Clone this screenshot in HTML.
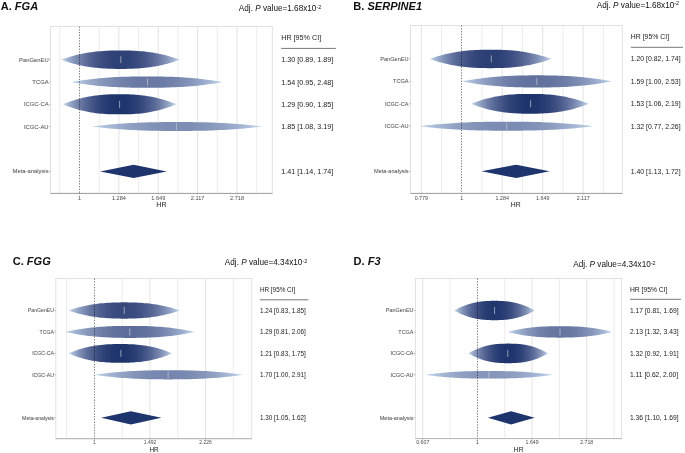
<!DOCTYPE html>
<html><head><meta charset="utf-8"><title>Forest plots</title>
<style>
html,body{margin:0;padding:0;background:#fff;}
svg{display:block;will-change:transform;filter:blur(0.3px);}
text{font-family:"Liberation Sans",sans-serif;}
.tt{font-size:11.05px;font-weight:bold;fill:#111;}
.adj{font-size:8.2px;fill:#111;}
.yl{font-size:5.8px;fill:#4d4d4d;}
.xl{font-size:5.6px;fill:#4d4d4d;}
.hr{font-size:7.2px;fill:#222;}
.rc{font-size:7.2px;fill:#111;}
</style></head><body>
<svg width="685" height="453" viewBox="0 0 685 453">
<defs>
<linearGradient id="gA0" gradientUnits="userSpaceOnUse" x1="61.15" y1="0" x2="179.76" y2="0"><stop offset="0.000" stop-color="#c6dbef"/><stop offset="0.025" stop-color="#b3c6e0"/><stop offset="0.050" stop-color="#a3b6d3"/><stop offset="0.075" stop-color="#96a7c8"/><stop offset="0.100" stop-color="#899abe"/><stop offset="0.125" stop-color="#7e8eb4"/><stop offset="0.150" stop-color="#7383ac"/><stop offset="0.175" stop-color="#6979a4"/><stop offset="0.200" stop-color="#61709d"/><stop offset="0.225" stop-color="#596897"/><stop offset="0.250" stop-color="#516191"/><stop offset="0.275" stop-color="#4b5b8c"/><stop offset="0.300" stop-color="#455587"/><stop offset="0.325" stop-color="#3f5183"/><stop offset="0.350" stop-color="#3b4c80"/><stop offset="0.375" stop-color="#37497d"/><stop offset="0.400" stop-color="#34467b"/><stop offset="0.425" stop-color="#314479"/><stop offset="0.450" stop-color="#2f4278"/><stop offset="0.475" stop-color="#2e4277"/><stop offset="0.500" stop-color="#2e4177"/><stop offset="0.525" stop-color="#2e4277"/><stop offset="0.550" stop-color="#2f4278"/><stop offset="0.575" stop-color="#314479"/><stop offset="0.600" stop-color="#34467b"/><stop offset="0.625" stop-color="#37497d"/><stop offset="0.650" stop-color="#3b4c80"/><stop offset="0.675" stop-color="#3f5183"/><stop offset="0.700" stop-color="#455587"/><stop offset="0.725" stop-color="#4b5b8c"/><stop offset="0.750" stop-color="#516191"/><stop offset="0.775" stop-color="#596897"/><stop offset="0.800" stop-color="#61709d"/><stop offset="0.825" stop-color="#6979a4"/><stop offset="0.850" stop-color="#7383ac"/><stop offset="0.875" stop-color="#7e8eb4"/><stop offset="0.900" stop-color="#899abe"/><stop offset="0.925" stop-color="#96a7c8"/><stop offset="0.950" stop-color="#a3b6d3"/><stop offset="0.975" stop-color="#b3c6e0"/><stop offset="1.000" stop-color="#c6dbef"/></linearGradient>
<linearGradient id="gA1" gradientUnits="userSpaceOnUse" x1="71.42" y1="0" x2="222.55" y2="0"><stop offset="0.000" stop-color="#c6dbef"/><stop offset="0.025" stop-color="#bacee5"/><stop offset="0.050" stop-color="#b1c4de"/><stop offset="0.075" stop-color="#a8bbd7"/><stop offset="0.100" stop-color="#a0b2d0"/><stop offset="0.125" stop-color="#99abcb"/><stop offset="0.150" stop-color="#92a4c5"/><stop offset="0.175" stop-color="#8d9dc0"/><stop offset="0.200" stop-color="#8798bc"/><stop offset="0.225" stop-color="#8292b8"/><stop offset="0.250" stop-color="#7e8eb4"/><stop offset="0.275" stop-color="#7a8ab1"/><stop offset="0.300" stop-color="#7686ae"/><stop offset="0.325" stop-color="#7383ac"/><stop offset="0.350" stop-color="#7080a9"/><stop offset="0.375" stop-color="#6e7ea8"/><stop offset="0.400" stop-color="#6c7ca6"/><stop offset="0.425" stop-color="#6a7aa5"/><stop offset="0.450" stop-color="#6979a4"/><stop offset="0.475" stop-color="#6978a4"/><stop offset="0.500" stop-color="#6978a3"/><stop offset="0.525" stop-color="#6978a4"/><stop offset="0.550" stop-color="#6979a4"/><stop offset="0.575" stop-color="#6a7aa5"/><stop offset="0.600" stop-color="#6c7ca6"/><stop offset="0.625" stop-color="#6e7ea8"/><stop offset="0.650" stop-color="#7080a9"/><stop offset="0.675" stop-color="#7383ac"/><stop offset="0.700" stop-color="#7686ae"/><stop offset="0.725" stop-color="#7a8ab1"/><stop offset="0.750" stop-color="#7e8eb4"/><stop offset="0.775" stop-color="#8292b8"/><stop offset="0.800" stop-color="#8798bc"/><stop offset="0.825" stop-color="#8d9dc0"/><stop offset="0.850" stop-color="#92a4c5"/><stop offset="0.875" stop-color="#99abcb"/><stop offset="0.900" stop-color="#a0b2d0"/><stop offset="0.925" stop-color="#a8bbd7"/><stop offset="0.950" stop-color="#b1c4de"/><stop offset="0.975" stop-color="#bacee5"/><stop offset="1.000" stop-color="#c6dbef"/></linearGradient>
<linearGradient id="gA2" gradientUnits="userSpaceOnUse" x1="62.91" y1="0" x2="176.39" y2="0"><stop offset="0.000" stop-color="#c6dbef"/><stop offset="0.025" stop-color="#b1c5de"/><stop offset="0.050" stop-color="#a0b2d0"/><stop offset="0.075" stop-color="#91a2c4"/><stop offset="0.100" stop-color="#8494b9"/><stop offset="0.125" stop-color="#7787af"/><stop offset="0.150" stop-color="#6c7ba6"/><stop offset="0.175" stop-color="#61719d"/><stop offset="0.200" stop-color="#576796"/><stop offset="0.225" stop-color="#4f5f8f"/><stop offset="0.250" stop-color="#465789"/><stop offset="0.275" stop-color="#3f5083"/><stop offset="0.300" stop-color="#384a7e"/><stop offset="0.325" stop-color="#32457a"/><stop offset="0.350" stop-color="#2d4176"/><stop offset="0.375" stop-color="#283d73"/><stop offset="0.400" stop-color="#243a70"/><stop offset="0.425" stop-color="#21386f"/><stop offset="0.450" stop-color="#1f366d"/><stop offset="0.475" stop-color="#1d356c"/><stop offset="0.500" stop-color="#1d356c"/><stop offset="0.525" stop-color="#1d356c"/><stop offset="0.550" stop-color="#1f366d"/><stop offset="0.575" stop-color="#21386f"/><stop offset="0.600" stop-color="#243a70"/><stop offset="0.625" stop-color="#283d73"/><stop offset="0.650" stop-color="#2d4176"/><stop offset="0.675" stop-color="#32457a"/><stop offset="0.700" stop-color="#384a7e"/><stop offset="0.725" stop-color="#3f5083"/><stop offset="0.750" stop-color="#465789"/><stop offset="0.775" stop-color="#4f5f8f"/><stop offset="0.800" stop-color="#576796"/><stop offset="0.825" stop-color="#61719d"/><stop offset="0.850" stop-color="#6c7ba6"/><stop offset="0.875" stop-color="#7787af"/><stop offset="0.900" stop-color="#8494b9"/><stop offset="0.925" stop-color="#91a2c4"/><stop offset="0.950" stop-color="#a0b2d0"/><stop offset="0.975" stop-color="#b1c5de"/><stop offset="1.000" stop-color="#c6dbef"/></linearGradient>
<linearGradient id="gA3" gradientUnits="userSpaceOnUse" x1="91.62" y1="0" x2="262.20" y2="0"><stop offset="0.000" stop-color="#c6dbef"/><stop offset="0.025" stop-color="#bdd1e8"/><stop offset="0.050" stop-color="#b5c9e1"/><stop offset="0.075" stop-color="#aec2dc"/><stop offset="0.100" stop-color="#a8bbd7"/><stop offset="0.125" stop-color="#a3b5d2"/><stop offset="0.150" stop-color="#9dafce"/><stop offset="0.175" stop-color="#99aaca"/><stop offset="0.200" stop-color="#94a6c7"/><stop offset="0.225" stop-color="#90a2c4"/><stop offset="0.250" stop-color="#8d9ec1"/><stop offset="0.275" stop-color="#8a9bbe"/><stop offset="0.300" stop-color="#8798bc"/><stop offset="0.325" stop-color="#8495ba"/><stop offset="0.350" stop-color="#8293b8"/><stop offset="0.375" stop-color="#8091b7"/><stop offset="0.400" stop-color="#7f8fb5"/><stop offset="0.425" stop-color="#7e8eb4"/><stop offset="0.450" stop-color="#7d8db4"/><stop offset="0.475" stop-color="#7d8db3"/><stop offset="0.500" stop-color="#7c8db3"/><stop offset="0.525" stop-color="#7d8db3"/><stop offset="0.550" stop-color="#7d8db4"/><stop offset="0.575" stop-color="#7e8eb4"/><stop offset="0.600" stop-color="#7f8fb5"/><stop offset="0.625" stop-color="#8091b7"/><stop offset="0.650" stop-color="#8293b8"/><stop offset="0.675" stop-color="#8495ba"/><stop offset="0.700" stop-color="#8798bc"/><stop offset="0.725" stop-color="#8a9bbe"/><stop offset="0.750" stop-color="#8d9ec1"/><stop offset="0.775" stop-color="#90a2c4"/><stop offset="0.800" stop-color="#94a6c7"/><stop offset="0.825" stop-color="#99aaca"/><stop offset="0.850" stop-color="#9dafce"/><stop offset="0.875" stop-color="#a3b5d2"/><stop offset="0.900" stop-color="#a8bbd7"/><stop offset="0.925" stop-color="#aec2dc"/><stop offset="0.950" stop-color="#b5c9e1"/><stop offset="0.975" stop-color="#bdd1e8"/><stop offset="1.000" stop-color="#c6dbef"/></linearGradient>
<linearGradient id="gB0" gradientUnits="userSpaceOnUse" x1="429.69" y1="0" x2="551.42" y2="0"><stop offset="0.000" stop-color="#c6dbef"/><stop offset="0.025" stop-color="#b3c6df"/><stop offset="0.050" stop-color="#a3b5d3"/><stop offset="0.075" stop-color="#95a6c7"/><stop offset="0.100" stop-color="#8899bd"/><stop offset="0.125" stop-color="#7c8db3"/><stop offset="0.150" stop-color="#7282ab"/><stop offset="0.175" stop-color="#6878a3"/><stop offset="0.200" stop-color="#5f6f9c"/><stop offset="0.225" stop-color="#576795"/><stop offset="0.250" stop-color="#4f5f8f"/><stop offset="0.275" stop-color="#49598a"/><stop offset="0.300" stop-color="#435386"/><stop offset="0.325" stop-color="#3d4e82"/><stop offset="0.350" stop-color="#384a7e"/><stop offset="0.375" stop-color="#34477b"/><stop offset="0.400" stop-color="#314479"/><stop offset="0.425" stop-color="#2e4277"/><stop offset="0.450" stop-color="#2c4076"/><stop offset="0.475" stop-color="#2b3f75"/><stop offset="0.500" stop-color="#2b3f75"/><stop offset="0.525" stop-color="#2b3f75"/><stop offset="0.550" stop-color="#2c4076"/><stop offset="0.575" stop-color="#2e4277"/><stop offset="0.600" stop-color="#314479"/><stop offset="0.625" stop-color="#34477b"/><stop offset="0.650" stop-color="#384a7e"/><stop offset="0.675" stop-color="#3d4e82"/><stop offset="0.700" stop-color="#435386"/><stop offset="0.725" stop-color="#49598a"/><stop offset="0.750" stop-color="#4f5f8f"/><stop offset="0.775" stop-color="#576795"/><stop offset="0.800" stop-color="#5f6f9c"/><stop offset="0.825" stop-color="#6878a3"/><stop offset="0.850" stop-color="#7282ab"/><stop offset="0.875" stop-color="#7c8db3"/><stop offset="0.900" stop-color="#8899bd"/><stop offset="0.925" stop-color="#95a6c7"/><stop offset="0.950" stop-color="#a3b5d3"/><stop offset="0.975" stop-color="#b3c6df"/><stop offset="1.000" stop-color="#c6dbef"/></linearGradient>
<linearGradient id="gB1" gradientUnits="userSpaceOnUse" x1="461.80" y1="0" x2="611.99" y2="0"><stop offset="0.000" stop-color="#c6dbef"/><stop offset="0.025" stop-color="#b9cde5"/><stop offset="0.050" stop-color="#afc2dc"/><stop offset="0.075" stop-color="#a6b8d5"/><stop offset="0.100" stop-color="#9dafce"/><stop offset="0.125" stop-color="#95a7c8"/><stop offset="0.150" stop-color="#8e9fc2"/><stop offset="0.175" stop-color="#8898bc"/><stop offset="0.200" stop-color="#8292b8"/><stop offset="0.225" stop-color="#7c8db3"/><stop offset="0.250" stop-color="#7888af"/><stop offset="0.275" stop-color="#7383ac"/><stop offset="0.300" stop-color="#6f7fa9"/><stop offset="0.325" stop-color="#6c7ca6"/><stop offset="0.350" stop-color="#6979a4"/><stop offset="0.375" stop-color="#6776a2"/><stop offset="0.400" stop-color="#6474a0"/><stop offset="0.425" stop-color="#63739f"/><stop offset="0.450" stop-color="#62719e"/><stop offset="0.475" stop-color="#61719d"/><stop offset="0.500" stop-color="#61719d"/><stop offset="0.525" stop-color="#61719d"/><stop offset="0.550" stop-color="#62719e"/><stop offset="0.575" stop-color="#63739f"/><stop offset="0.600" stop-color="#6474a0"/><stop offset="0.625" stop-color="#6776a2"/><stop offset="0.650" stop-color="#6979a4"/><stop offset="0.675" stop-color="#6c7ca6"/><stop offset="0.700" stop-color="#6f7fa9"/><stop offset="0.725" stop-color="#7383ac"/><stop offset="0.750" stop-color="#7888af"/><stop offset="0.775" stop-color="#7c8db3"/><stop offset="0.800" stop-color="#8292b8"/><stop offset="0.825" stop-color="#8898bc"/><stop offset="0.850" stop-color="#8e9fc2"/><stop offset="0.875" stop-color="#95a7c8"/><stop offset="0.900" stop-color="#9dafce"/><stop offset="0.925" stop-color="#a6b8d5"/><stop offset="0.950" stop-color="#afc2dc"/><stop offset="0.975" stop-color="#b9cde5"/><stop offset="1.000" stop-color="#c6dbef"/></linearGradient>
<linearGradient id="gB2" gradientUnits="userSpaceOnUse" x1="471.23" y1="0" x2="588.64" y2="0"><stop offset="0.000" stop-color="#c6dbef"/><stop offset="0.025" stop-color="#b1c5de"/><stop offset="0.050" stop-color="#a0b2d0"/><stop offset="0.075" stop-color="#91a2c4"/><stop offset="0.100" stop-color="#8494b9"/><stop offset="0.125" stop-color="#7787af"/><stop offset="0.150" stop-color="#6c7ba6"/><stop offset="0.175" stop-color="#61719d"/><stop offset="0.200" stop-color="#576796"/><stop offset="0.225" stop-color="#4f5f8f"/><stop offset="0.250" stop-color="#465789"/><stop offset="0.275" stop-color="#3f5083"/><stop offset="0.300" stop-color="#384a7e"/><stop offset="0.325" stop-color="#32457a"/><stop offset="0.350" stop-color="#2d4176"/><stop offset="0.375" stop-color="#283d73"/><stop offset="0.400" stop-color="#243a70"/><stop offset="0.425" stop-color="#21386f"/><stop offset="0.450" stop-color="#1f366d"/><stop offset="0.475" stop-color="#1d356c"/><stop offset="0.500" stop-color="#1d356c"/><stop offset="0.525" stop-color="#1d356c"/><stop offset="0.550" stop-color="#1f366d"/><stop offset="0.575" stop-color="#21386f"/><stop offset="0.600" stop-color="#243a70"/><stop offset="0.625" stop-color="#283d73"/><stop offset="0.650" stop-color="#2d4176"/><stop offset="0.675" stop-color="#32457a"/><stop offset="0.700" stop-color="#384a7e"/><stop offset="0.725" stop-color="#3f5083"/><stop offset="0.750" stop-color="#465789"/><stop offset="0.775" stop-color="#4f5f8f"/><stop offset="0.800" stop-color="#576796"/><stop offset="0.825" stop-color="#61719d"/><stop offset="0.850" stop-color="#6c7ba6"/><stop offset="0.875" stop-color="#7787af"/><stop offset="0.900" stop-color="#8494b9"/><stop offset="0.925" stop-color="#91a2c4"/><stop offset="0.950" stop-color="#a0b2d0"/><stop offset="0.975" stop-color="#b1c5de"/><stop offset="1.000" stop-color="#c6dbef"/></linearGradient>
<linearGradient id="gB3" gradientUnits="userSpaceOnUse" x1="419.51" y1="0" x2="593.73" y2="0"><stop offset="0.000" stop-color="#c6dbef"/><stop offset="0.025" stop-color="#bdd1e7"/><stop offset="0.050" stop-color="#b5c8e1"/><stop offset="0.075" stop-color="#aec1db"/><stop offset="0.100" stop-color="#a7bad6"/><stop offset="0.125" stop-color="#a2b4d2"/><stop offset="0.150" stop-color="#9caecd"/><stop offset="0.175" stop-color="#98a9c9"/><stop offset="0.200" stop-color="#93a4c6"/><stop offset="0.225" stop-color="#8fa0c2"/><stop offset="0.250" stop-color="#8b9cbf"/><stop offset="0.275" stop-color="#8899bd"/><stop offset="0.300" stop-color="#8596ba"/><stop offset="0.325" stop-color="#8393b8"/><stop offset="0.350" stop-color="#8091b7"/><stop offset="0.375" stop-color="#7f8fb5"/><stop offset="0.400" stop-color="#7d8db4"/><stop offset="0.425" stop-color="#7c8cb3"/><stop offset="0.450" stop-color="#7b8bb2"/><stop offset="0.475" stop-color="#7b8bb2"/><stop offset="0.500" stop-color="#7a8bb2"/><stop offset="0.525" stop-color="#7b8bb2"/><stop offset="0.550" stop-color="#7b8bb2"/><stop offset="0.575" stop-color="#7c8cb3"/><stop offset="0.600" stop-color="#7d8db4"/><stop offset="0.625" stop-color="#7f8fb5"/><stop offset="0.650" stop-color="#8091b7"/><stop offset="0.675" stop-color="#8393b8"/><stop offset="0.700" stop-color="#8596ba"/><stop offset="0.725" stop-color="#8899bd"/><stop offset="0.750" stop-color="#8b9cbf"/><stop offset="0.775" stop-color="#8fa0c2"/><stop offset="0.800" stop-color="#93a4c6"/><stop offset="0.825" stop-color="#98a9c9"/><stop offset="0.850" stop-color="#9caecd"/><stop offset="0.875" stop-color="#a2b4d2"/><stop offset="0.900" stop-color="#a7bad6"/><stop offset="0.925" stop-color="#aec1db"/><stop offset="0.950" stop-color="#b5c8e1"/><stop offset="0.975" stop-color="#bdd1e7"/><stop offset="1.000" stop-color="#c6dbef"/></linearGradient>
<linearGradient id="gC0" gradientUnits="userSpaceOnUse" x1="68.52" y1="0" x2="179.85" y2="0"><stop offset="0.000" stop-color="#c6dbef"/><stop offset="0.025" stop-color="#b4c8e0"/><stop offset="0.050" stop-color="#a5b8d4"/><stop offset="0.075" stop-color="#98aaca"/><stop offset="0.100" stop-color="#8c9dc0"/><stop offset="0.125" stop-color="#8192b7"/><stop offset="0.150" stop-color="#7788af"/><stop offset="0.175" stop-color="#6e7ea8"/><stop offset="0.200" stop-color="#6676a1"/><stop offset="0.225" stop-color="#5e6e9b"/><stop offset="0.250" stop-color="#586796"/><stop offset="0.275" stop-color="#516191"/><stop offset="0.300" stop-color="#4c5c8d"/><stop offset="0.325" stop-color="#475789"/><stop offset="0.350" stop-color="#435386"/><stop offset="0.375" stop-color="#3f5083"/><stop offset="0.400" stop-color="#3c4d81"/><stop offset="0.425" stop-color="#3a4b7f"/><stop offset="0.450" stop-color="#384a7e"/><stop offset="0.475" stop-color="#37497d"/><stop offset="0.500" stop-color="#36497d"/><stop offset="0.525" stop-color="#37497d"/><stop offset="0.550" stop-color="#384a7e"/><stop offset="0.575" stop-color="#3a4b7f"/><stop offset="0.600" stop-color="#3c4d81"/><stop offset="0.625" stop-color="#3f5083"/><stop offset="0.650" stop-color="#435386"/><stop offset="0.675" stop-color="#475789"/><stop offset="0.700" stop-color="#4c5c8d"/><stop offset="0.725" stop-color="#516191"/><stop offset="0.750" stop-color="#586796"/><stop offset="0.775" stop-color="#5e6e9b"/><stop offset="0.800" stop-color="#6676a1"/><stop offset="0.825" stop-color="#6e7ea8"/><stop offset="0.850" stop-color="#7788af"/><stop offset="0.875" stop-color="#8192b7"/><stop offset="0.900" stop-color="#8c9dc0"/><stop offset="0.925" stop-color="#98aaca"/><stop offset="0.950" stop-color="#a5b8d4"/><stop offset="0.975" stop-color="#b4c8e0"/><stop offset="1.000" stop-color="#c6dbef"/></linearGradient>
<linearGradient id="gC1" gradientUnits="userSpaceOnUse" x1="65.13" y1="0" x2="194.78" y2="0"><stop offset="0.000" stop-color="#c6dbef"/><stop offset="0.025" stop-color="#b9cde4"/><stop offset="0.050" stop-color="#aec1db"/><stop offset="0.075" stop-color="#a4b6d3"/><stop offset="0.100" stop-color="#9badcc"/><stop offset="0.125" stop-color="#93a5c6"/><stop offset="0.150" stop-color="#8c9dc0"/><stop offset="0.175" stop-color="#8596ba"/><stop offset="0.200" stop-color="#7f8fb5"/><stop offset="0.225" stop-color="#7989b1"/><stop offset="0.250" stop-color="#7484ad"/><stop offset="0.275" stop-color="#707fa9"/><stop offset="0.300" stop-color="#6c7ba6"/><stop offset="0.325" stop-color="#6878a3"/><stop offset="0.350" stop-color="#6575a0"/><stop offset="0.375" stop-color="#62729e"/><stop offset="0.400" stop-color="#60709d"/><stop offset="0.425" stop-color="#5f6e9b"/><stop offset="0.450" stop-color="#5d6d9a"/><stop offset="0.475" stop-color="#5d6c9a"/><stop offset="0.500" stop-color="#5c6c9a"/><stop offset="0.525" stop-color="#5d6c9a"/><stop offset="0.550" stop-color="#5d6d9a"/><stop offset="0.575" stop-color="#5f6e9b"/><stop offset="0.600" stop-color="#60709d"/><stop offset="0.625" stop-color="#62729e"/><stop offset="0.650" stop-color="#6575a0"/><stop offset="0.675" stop-color="#6878a3"/><stop offset="0.700" stop-color="#6c7ba6"/><stop offset="0.725" stop-color="#707fa9"/><stop offset="0.750" stop-color="#7484ad"/><stop offset="0.775" stop-color="#7989b1"/><stop offset="0.800" stop-color="#7f8fb5"/><stop offset="0.825" stop-color="#8596ba"/><stop offset="0.850" stop-color="#8c9dc0"/><stop offset="0.875" stop-color="#93a5c6"/><stop offset="0.900" stop-color="#9badcc"/><stop offset="0.925" stop-color="#a4b6d3"/><stop offset="0.950" stop-color="#aec1db"/><stop offset="0.975" stop-color="#b9cde4"/><stop offset="1.000" stop-color="#c6dbef"/></linearGradient>
<linearGradient id="gC2" gradientUnits="userSpaceOnUse" x1="68.52" y1="0" x2="172.13" y2="0"><stop offset="0.000" stop-color="#c6dbef"/><stop offset="0.025" stop-color="#b1c5de"/><stop offset="0.050" stop-color="#a0b2d0"/><stop offset="0.075" stop-color="#91a2c4"/><stop offset="0.100" stop-color="#8494b9"/><stop offset="0.125" stop-color="#7787af"/><stop offset="0.150" stop-color="#6c7ba6"/><stop offset="0.175" stop-color="#61719d"/><stop offset="0.200" stop-color="#576796"/><stop offset="0.225" stop-color="#4f5f8f"/><stop offset="0.250" stop-color="#465789"/><stop offset="0.275" stop-color="#3f5083"/><stop offset="0.300" stop-color="#384a7e"/><stop offset="0.325" stop-color="#32457a"/><stop offset="0.350" stop-color="#2d4176"/><stop offset="0.375" stop-color="#283d73"/><stop offset="0.400" stop-color="#243a70"/><stop offset="0.425" stop-color="#21386f"/><stop offset="0.450" stop-color="#1f366d"/><stop offset="0.475" stop-color="#1d356c"/><stop offset="0.500" stop-color="#1d356c"/><stop offset="0.525" stop-color="#1d356c"/><stop offset="0.550" stop-color="#1f366d"/><stop offset="0.575" stop-color="#21386f"/><stop offset="0.600" stop-color="#243a70"/><stop offset="0.625" stop-color="#283d73"/><stop offset="0.650" stop-color="#2d4176"/><stop offset="0.675" stop-color="#32457a"/><stop offset="0.700" stop-color="#384a7e"/><stop offset="0.725" stop-color="#3f5083"/><stop offset="0.750" stop-color="#465789"/><stop offset="0.775" stop-color="#4f5f8f"/><stop offset="0.800" stop-color="#576796"/><stop offset="0.825" stop-color="#61719d"/><stop offset="0.850" stop-color="#6c7ba6"/><stop offset="0.875" stop-color="#7787af"/><stop offset="0.900" stop-color="#8494b9"/><stop offset="0.925" stop-color="#91a2c4"/><stop offset="0.950" stop-color="#a0b2d0"/><stop offset="0.975" stop-color="#b1c5de"/><stop offset="1.000" stop-color="#c6dbef"/></linearGradient>
<linearGradient id="gC3" gradientUnits="userSpaceOnUse" x1="94.40" y1="0" x2="242.77" y2="0"><stop offset="0.000" stop-color="#c6dbef"/><stop offset="0.025" stop-color="#bcd0e7"/><stop offset="0.050" stop-color="#b4c7e0"/><stop offset="0.075" stop-color="#acbfda"/><stop offset="0.100" stop-color="#a5b8d4"/><stop offset="0.125" stop-color="#9fb1cf"/><stop offset="0.150" stop-color="#99abcb"/><stop offset="0.175" stop-color="#94a6c7"/><stop offset="0.200" stop-color="#8fa1c3"/><stop offset="0.225" stop-color="#8b9cbf"/><stop offset="0.250" stop-color="#8798bc"/><stop offset="0.275" stop-color="#8494b9"/><stop offset="0.300" stop-color="#8191b7"/><stop offset="0.325" stop-color="#7e8eb4"/><stop offset="0.350" stop-color="#7b8cb3"/><stop offset="0.375" stop-color="#798ab1"/><stop offset="0.400" stop-color="#7888b0"/><stop offset="0.425" stop-color="#7787af"/><stop offset="0.450" stop-color="#7686ae"/><stop offset="0.475" stop-color="#7585ad"/><stop offset="0.500" stop-color="#7585ad"/><stop offset="0.525" stop-color="#7585ad"/><stop offset="0.550" stop-color="#7686ae"/><stop offset="0.575" stop-color="#7787af"/><stop offset="0.600" stop-color="#7888b0"/><stop offset="0.625" stop-color="#798ab1"/><stop offset="0.650" stop-color="#7b8cb3"/><stop offset="0.675" stop-color="#7e8eb4"/><stop offset="0.700" stop-color="#8191b7"/><stop offset="0.725" stop-color="#8494b9"/><stop offset="0.750" stop-color="#8798bc"/><stop offset="0.775" stop-color="#8b9cbf"/><stop offset="0.800" stop-color="#8fa1c3"/><stop offset="0.825" stop-color="#94a6c7"/><stop offset="0.850" stop-color="#99abcb"/><stop offset="0.875" stop-color="#9fb1cf"/><stop offset="0.900" stop-color="#a5b8d4"/><stop offset="0.925" stop-color="#acbfda"/><stop offset="0.950" stop-color="#b4c7e0"/><stop offset="0.975" stop-color="#bcd0e7"/><stop offset="1.000" stop-color="#c6dbef"/></linearGradient>
<linearGradient id="gD0" gradientUnits="userSpaceOnUse" x1="454.37" y1="0" x2="534.75" y2="0"><stop offset="0.000" stop-color="#c6dbef"/><stop offset="0.025" stop-color="#b1c5de"/><stop offset="0.050" stop-color="#a1b3d1"/><stop offset="0.075" stop-color="#92a3c5"/><stop offset="0.100" stop-color="#8495ba"/><stop offset="0.125" stop-color="#7888b0"/><stop offset="0.150" stop-color="#6d7da7"/><stop offset="0.175" stop-color="#62729e"/><stop offset="0.200" stop-color="#596997"/><stop offset="0.225" stop-color="#506090"/><stop offset="0.250" stop-color="#48598a"/><stop offset="0.275" stop-color="#415284"/><stop offset="0.300" stop-color="#3a4c80"/><stop offset="0.325" stop-color="#35477b"/><stop offset="0.350" stop-color="#2f4378"/><stop offset="0.375" stop-color="#2b3f75"/><stop offset="0.400" stop-color="#273c72"/><stop offset="0.425" stop-color="#243a70"/><stop offset="0.450" stop-color="#22386f"/><stop offset="0.475" stop-color="#20376e"/><stop offset="0.500" stop-color="#20376e"/><stop offset="0.525" stop-color="#20376e"/><stop offset="0.550" stop-color="#22386f"/><stop offset="0.575" stop-color="#243a70"/><stop offset="0.600" stop-color="#273c72"/><stop offset="0.625" stop-color="#2b3f75"/><stop offset="0.650" stop-color="#2f4378"/><stop offset="0.675" stop-color="#35477b"/><stop offset="0.700" stop-color="#3a4c80"/><stop offset="0.725" stop-color="#415284"/><stop offset="0.750" stop-color="#48598a"/><stop offset="0.775" stop-color="#506090"/><stop offset="0.800" stop-color="#596997"/><stop offset="0.825" stop-color="#62729e"/><stop offset="0.850" stop-color="#6d7da7"/><stop offset="0.875" stop-color="#7888b0"/><stop offset="0.900" stop-color="#8495ba"/><stop offset="0.925" stop-color="#92a3c5"/><stop offset="0.950" stop-color="#a1b3d1"/><stop offset="0.975" stop-color="#b1c5de"/><stop offset="1.000" stop-color="#c6dbef"/></linearGradient>
<linearGradient id="gD1" gradientUnits="userSpaceOnUse" x1="507.75" y1="0" x2="612.12" y2="0"><stop offset="0.000" stop-color="#c6dbef"/><stop offset="0.025" stop-color="#bacee5"/><stop offset="0.050" stop-color="#b0c3dd"/><stop offset="0.075" stop-color="#a7bad6"/><stop offset="0.100" stop-color="#9fb1cf"/><stop offset="0.125" stop-color="#97a9c9"/><stop offset="0.150" stop-color="#91a2c4"/><stop offset="0.175" stop-color="#8a9bbf"/><stop offset="0.200" stop-color="#8595ba"/><stop offset="0.225" stop-color="#8090b6"/><stop offset="0.250" stop-color="#7b8bb2"/><stop offset="0.275" stop-color="#7787af"/><stop offset="0.300" stop-color="#7383ac"/><stop offset="0.325" stop-color="#7080a9"/><stop offset="0.350" stop-color="#6d7da7"/><stop offset="0.375" stop-color="#6a7aa5"/><stop offset="0.400" stop-color="#6978a3"/><stop offset="0.425" stop-color="#6777a2"/><stop offset="0.450" stop-color="#6676a1"/><stop offset="0.475" stop-color="#6575a1"/><stop offset="0.500" stop-color="#6575a1"/><stop offset="0.525" stop-color="#6575a1"/><stop offset="0.550" stop-color="#6676a1"/><stop offset="0.575" stop-color="#6777a2"/><stop offset="0.600" stop-color="#6978a3"/><stop offset="0.625" stop-color="#6a7aa5"/><stop offset="0.650" stop-color="#6d7da7"/><stop offset="0.675" stop-color="#7080a9"/><stop offset="0.700" stop-color="#7383ac"/><stop offset="0.725" stop-color="#7787af"/><stop offset="0.750" stop-color="#7b8bb2"/><stop offset="0.775" stop-color="#8090b6"/><stop offset="0.800" stop-color="#8595ba"/><stop offset="0.825" stop-color="#8a9bbf"/><stop offset="0.850" stop-color="#91a2c4"/><stop offset="0.875" stop-color="#97a9c9"/><stop offset="0.900" stop-color="#9fb1cf"/><stop offset="0.925" stop-color="#a7bad6"/><stop offset="0.950" stop-color="#b0c3dd"/><stop offset="0.975" stop-color="#bacee5"/><stop offset="1.000" stop-color="#c6dbef"/></linearGradient>
<linearGradient id="gD2" gradientUnits="userSpaceOnUse" x1="468.29" y1="0" x2="548.13" y2="0"><stop offset="0.000" stop-color="#c6dbef"/><stop offset="0.025" stop-color="#b1c5de"/><stop offset="0.050" stop-color="#a0b2d0"/><stop offset="0.075" stop-color="#91a2c4"/><stop offset="0.100" stop-color="#8494b9"/><stop offset="0.125" stop-color="#7787af"/><stop offset="0.150" stop-color="#6c7ba6"/><stop offset="0.175" stop-color="#61719d"/><stop offset="0.200" stop-color="#576796"/><stop offset="0.225" stop-color="#4f5f8f"/><stop offset="0.250" stop-color="#465789"/><stop offset="0.275" stop-color="#3f5083"/><stop offset="0.300" stop-color="#384a7e"/><stop offset="0.325" stop-color="#32457a"/><stop offset="0.350" stop-color="#2d4176"/><stop offset="0.375" stop-color="#283d73"/><stop offset="0.400" stop-color="#243a70"/><stop offset="0.425" stop-color="#21386f"/><stop offset="0.450" stop-color="#1f366d"/><stop offset="0.475" stop-color="#1d356c"/><stop offset="0.500" stop-color="#1d356c"/><stop offset="0.525" stop-color="#1d356c"/><stop offset="0.550" stop-color="#1f366d"/><stop offset="0.575" stop-color="#21386f"/><stop offset="0.600" stop-color="#243a70"/><stop offset="0.625" stop-color="#283d73"/><stop offset="0.650" stop-color="#2d4176"/><stop offset="0.675" stop-color="#32457a"/><stop offset="0.700" stop-color="#384a7e"/><stop offset="0.725" stop-color="#3f5083"/><stop offset="0.750" stop-color="#465789"/><stop offset="0.775" stop-color="#4f5f8f"/><stop offset="0.800" stop-color="#576796"/><stop offset="0.825" stop-color="#61719d"/><stop offset="0.850" stop-color="#6c7ba6"/><stop offset="0.875" stop-color="#7787af"/><stop offset="0.900" stop-color="#8494b9"/><stop offset="0.925" stop-color="#91a2c4"/><stop offset="0.950" stop-color="#a0b2d0"/><stop offset="0.975" stop-color="#b1c5de"/><stop offset="1.000" stop-color="#c6dbef"/></linearGradient>
<linearGradient id="gD3" gradientUnits="userSpaceOnUse" x1="425.15" y1="0" x2="553.16" y2="0"><stop offset="0.000" stop-color="#c6dbef"/><stop offset="0.025" stop-color="#bed2e8"/><stop offset="0.050" stop-color="#b7cbe3"/><stop offset="0.075" stop-color="#b1c5de"/><stop offset="0.100" stop-color="#acbfda"/><stop offset="0.125" stop-color="#a7b9d6"/><stop offset="0.150" stop-color="#a2b5d2"/><stop offset="0.175" stop-color="#9eb0cf"/><stop offset="0.200" stop-color="#9aaccc"/><stop offset="0.225" stop-color="#97a8c9"/><stop offset="0.250" stop-color="#94a5c6"/><stop offset="0.275" stop-color="#91a2c4"/><stop offset="0.300" stop-color="#8e9fc2"/><stop offset="0.325" stop-color="#8c9dc0"/><stop offset="0.350" stop-color="#8a9bbf"/><stop offset="0.375" stop-color="#8999bd"/><stop offset="0.400" stop-color="#8798bc"/><stop offset="0.425" stop-color="#8697bb"/><stop offset="0.450" stop-color="#8696bb"/><stop offset="0.475" stop-color="#8596ba"/><stop offset="0.500" stop-color="#8596ba"/><stop offset="0.525" stop-color="#8596ba"/><stop offset="0.550" stop-color="#8696bb"/><stop offset="0.575" stop-color="#8697bb"/><stop offset="0.600" stop-color="#8798bc"/><stop offset="0.625" stop-color="#8999bd"/><stop offset="0.650" stop-color="#8a9bbf"/><stop offset="0.675" stop-color="#8c9dc0"/><stop offset="0.700" stop-color="#8e9fc2"/><stop offset="0.725" stop-color="#91a2c4"/><stop offset="0.750" stop-color="#94a5c6"/><stop offset="0.775" stop-color="#97a8c9"/><stop offset="0.800" stop-color="#9aaccc"/><stop offset="0.825" stop-color="#9eb0cf"/><stop offset="0.850" stop-color="#a2b5d2"/><stop offset="0.875" stop-color="#a7b9d6"/><stop offset="0.900" stop-color="#acbfda"/><stop offset="0.925" stop-color="#b1c5de"/><stop offset="0.950" stop-color="#b7cbe3"/><stop offset="0.975" stop-color="#bed2e8"/><stop offset="1.000" stop-color="#c6dbef"/></linearGradient>
</defs>
<rect x="0" y="0" width="685" height="453" fill="#fff"/>
<g opacity="0.999">
<rect x="50.5" y="26.5" width="221.80" height="166.90" fill="#fff" stroke="#dedede" stroke-width="0.9"/>
<line x1="59.81" y1="26.5" x2="59.81" y2="193.4" stroke="#e7e7e7" stroke-width="0.8"/>
<line x1="99.19" y1="26.5" x2="99.19" y2="193.4" stroke="#e7e7e7" stroke-width="0.8"/>
<line x1="118.88" y1="26.5" x2="118.88" y2="193.4" stroke="#dedede" stroke-width="0.85"/>
<line x1="138.56" y1="26.5" x2="138.56" y2="193.4" stroke="#e7e7e7" stroke-width="0.8"/>
<line x1="158.25" y1="26.5" x2="158.25" y2="193.4" stroke="#dedede" stroke-width="0.85"/>
<line x1="177.94" y1="26.5" x2="177.94" y2="193.4" stroke="#e7e7e7" stroke-width="0.8"/>
<line x1="197.62" y1="26.5" x2="197.62" y2="193.4" stroke="#dedede" stroke-width="0.85"/>
<line x1="217.31" y1="26.5" x2="217.31" y2="193.4" stroke="#e7e7e7" stroke-width="0.8"/>
<line x1="237.00" y1="26.5" x2="237.00" y2="193.4" stroke="#dedede" stroke-width="0.85"/>
<line x1="256.69" y1="26.5" x2="256.69" y2="193.4" stroke="#e7e7e7" stroke-width="0.8"/>
<line x1="50.5" y1="193.4" x2="272.3" y2="193.4" stroke="#969696" stroke-width="0.9"/>
<path d="M61.15,59.70 L63.62,58.81 L66.09,57.96 L68.56,57.17 L71.03,56.44 L73.50,55.75 L75.97,55.11 L78.44,54.51 L80.92,53.97 L83.39,53.47 L85.86,53.02 L88.33,52.60 L90.80,52.23 L93.27,51.90 L95.74,51.62 L98.21,51.36 L100.68,51.15 L103.16,50.97 L105.63,50.82 L108.10,50.70 L110.57,50.61 L113.04,50.55 L115.51,50.51 L117.98,50.49 L120.45,50.49 L122.92,50.49 L125.40,50.51 L127.87,50.55 L130.34,50.61 L132.81,50.70 L135.28,50.82 L137.75,50.97 L140.22,51.15 L142.69,51.36 L145.16,51.62 L147.64,51.90 L150.11,52.23 L152.58,52.60 L155.05,53.02 L157.52,53.47 L159.99,53.97 L162.46,54.51 L164.93,55.11 L167.41,55.75 L169.88,56.44 L172.35,57.17 L174.82,57.96 L177.29,58.81 L179.76,59.70 L177.29,60.59 L174.82,61.44 L172.35,62.23 L169.88,62.96 L167.41,63.65 L164.93,64.29 L162.46,64.89 L159.99,65.43 L157.52,65.93 L155.05,66.38 L152.58,66.80 L150.11,67.17 L147.64,67.50 L145.16,67.78 L142.69,68.04 L140.22,68.25 L137.75,68.43 L135.28,68.58 L132.81,68.70 L130.34,68.79 L127.87,68.85 L125.40,68.89 L122.92,68.91 L120.45,68.91 L117.98,68.91 L115.51,68.89 L113.04,68.85 L110.57,68.79 L108.10,68.70 L105.63,68.58 L103.16,68.43 L100.68,68.25 L98.21,68.04 L95.74,67.78 L93.27,67.50 L90.80,67.17 L88.33,66.80 L85.86,66.38 L83.39,65.93 L80.92,65.43 L78.44,64.89 L75.97,64.29 L73.50,63.65 L71.03,62.96 L68.56,62.23 L66.09,61.44 L63.62,60.59 Z" fill="url(#gA0)"/>
<line x1="120.82" y1="56.20" x2="120.82" y2="63.20" stroke="#c6c9d4" stroke-width="0.7"/>
<text transform="translate(48.60 61.75) scale(1.000 1)" font-size="5.85" fill="#555" text-anchor="end" stroke="#555" stroke-width="0.06">PanGenEU</text>
<line x1="49.10" y1="59.7" x2="50.5" y2="59.7" stroke="#8a8a8a" stroke-width="0.6"/>
<text transform="translate(281.20 62.25) scale(1.000 1)" font-size="7.20" fill="#1a1a1a" text-anchor="start">1.30 [0.89, 1.89]</text>
<path d="M71.42,82.10 L74.57,81.55 L77.72,81.03 L80.87,80.54 L84.02,80.09 L87.16,79.66 L90.31,79.27 L93.46,78.91 L96.61,78.57 L99.76,78.26 L102.91,77.98 L106.06,77.73 L109.20,77.50 L112.35,77.30 L115.50,77.12 L118.65,76.96 L121.80,76.83 L124.95,76.72 L128.09,76.63 L131.24,76.56 L134.39,76.50 L137.54,76.46 L140.69,76.44 L143.84,76.43 L146.99,76.43 L150.13,76.43 L153.28,76.44 L156.43,76.46 L159.58,76.50 L162.73,76.56 L165.88,76.63 L169.03,76.72 L172.17,76.83 L175.32,76.96 L178.47,77.12 L181.62,77.30 L184.77,77.50 L187.92,77.73 L191.07,77.98 L194.21,78.26 L197.36,78.57 L200.51,78.91 L203.66,79.27 L206.81,79.66 L209.96,80.09 L213.11,80.54 L216.25,81.03 L219.40,81.55 L222.55,82.10 L219.40,82.65 L216.25,83.17 L213.11,83.66 L209.96,84.11 L206.81,84.54 L203.66,84.93 L200.51,85.29 L197.36,85.63 L194.21,85.94 L191.07,86.22 L187.92,86.47 L184.77,86.70 L181.62,86.90 L178.47,87.08 L175.32,87.24 L172.17,87.37 L169.03,87.48 L165.88,87.57 L162.73,87.64 L159.58,87.70 L156.43,87.74 L153.28,87.76 L150.13,87.77 L146.99,87.77 L143.84,87.77 L140.69,87.76 L137.54,87.74 L134.39,87.70 L131.24,87.64 L128.09,87.57 L124.95,87.48 L121.80,87.37 L118.65,87.24 L115.50,87.08 L112.35,86.90 L109.20,86.70 L106.06,86.47 L102.91,86.22 L99.76,85.94 L96.61,85.63 L93.46,85.29 L90.31,84.93 L87.16,84.54 L84.02,84.11 L80.87,83.66 L77.72,83.17 L74.57,82.65 Z" fill="url(#gA1)"/>
<line x1="147.51" y1="78.60" x2="147.51" y2="85.60" stroke="#c6c9d4" stroke-width="0.7"/>
<text transform="translate(48.60 84.15) scale(1.000 1)" font-size="5.85" fill="#555" text-anchor="end" stroke="#555" stroke-width="0.06">TCGA</text>
<line x1="49.10" y1="82.1" x2="50.5" y2="82.1" stroke="#8a8a8a" stroke-width="0.6"/>
<text transform="translate(281.20 84.65) scale(1.000 1)" font-size="7.20" fill="#1a1a1a" text-anchor="start">1.54 [0.95, 2.48]</text>
<path d="M62.91,104.30 L65.27,103.32 L67.63,102.40 L70.00,101.54 L72.36,100.73 L74.73,99.98 L77.09,99.28 L79.46,98.64 L81.82,98.04 L84.18,97.49 L86.55,97.00 L88.91,96.55 L91.28,96.14 L93.64,95.78 L96.01,95.47 L98.37,95.19 L100.73,94.96 L103.10,94.76 L105.46,94.60 L107.83,94.47 L110.19,94.37 L112.56,94.31 L114.92,94.26 L117.28,94.24 L119.65,94.24 L122.01,94.24 L124.38,94.26 L126.74,94.31 L129.11,94.37 L131.47,94.47 L133.83,94.60 L136.20,94.76 L138.56,94.96 L140.93,95.19 L143.29,95.47 L145.66,95.78 L148.02,96.14 L150.38,96.55 L152.75,97.00 L155.11,97.49 L157.48,98.04 L159.84,98.64 L162.21,99.28 L164.57,99.98 L166.93,100.73 L169.30,101.54 L171.66,102.40 L174.03,103.32 L176.39,104.30 L174.03,105.28 L171.66,106.20 L169.30,107.06 L166.93,107.87 L164.57,108.62 L162.21,109.32 L159.84,109.96 L157.48,110.56 L155.11,111.11 L152.75,111.60 L150.38,112.05 L148.02,112.46 L145.66,112.82 L143.29,113.13 L140.93,113.41 L138.56,113.64 L136.20,113.84 L133.83,114.00 L131.47,114.13 L129.11,114.23 L126.74,114.29 L124.38,114.34 L122.01,114.36 L119.65,114.36 L117.28,114.36 L114.92,114.34 L112.56,114.29 L110.19,114.23 L107.83,114.13 L105.46,114.00 L103.10,113.84 L100.73,113.64 L98.37,113.41 L96.01,113.13 L93.64,112.82 L91.28,112.46 L88.91,112.05 L86.55,111.60 L84.18,111.11 L81.82,110.56 L79.46,109.96 L77.09,109.32 L74.73,108.62 L72.36,107.87 L70.00,107.06 L67.63,106.20 L65.27,105.28 Z" fill="url(#gA2)"/>
<line x1="119.61" y1="100.80" x2="119.61" y2="107.80" stroke="#c6c9d4" stroke-width="0.7"/>
<text transform="translate(48.60 106.35) scale(1.000 1)" font-size="5.85" fill="#555" text-anchor="end" stroke="#555" stroke-width="0.06">ICGC-CA</text>
<line x1="49.10" y1="104.3" x2="50.5" y2="104.3" stroke="#8a8a8a" stroke-width="0.6"/>
<text transform="translate(281.20 106.85) scale(1.000 1)" font-size="7.20" fill="#1a1a1a" text-anchor="start">1.29 [0.90, 1.85]</text>
<path d="M91.62,126.50 L95.18,126.07 L98.73,125.66 L102.28,125.28 L105.84,124.92 L109.39,124.59 L112.94,124.28 L116.50,123.99 L120.05,123.73 L123.61,123.49 L127.16,123.27 L130.71,123.07 L134.27,122.89 L137.82,122.73 L141.37,122.59 L144.93,122.47 L148.48,122.36 L152.04,122.28 L155.59,122.21 L159.14,122.15 L162.70,122.11 L166.25,122.08 L169.80,122.06 L173.36,122.05 L176.91,122.05 L180.47,122.05 L184.02,122.06 L187.57,122.08 L191.13,122.11 L194.68,122.15 L198.24,122.21 L201.79,122.28 L205.34,122.36 L208.90,122.47 L212.45,122.59 L216.00,122.73 L219.56,122.89 L223.11,123.07 L226.67,123.27 L230.22,123.49 L233.77,123.73 L237.33,123.99 L240.88,124.28 L244.43,124.59 L247.99,124.92 L251.54,125.28 L255.10,125.66 L258.65,126.07 L262.20,126.50 L258.65,126.93 L255.10,127.34 L251.54,127.72 L247.99,128.08 L244.43,128.41 L240.88,128.72 L237.33,129.01 L233.77,129.27 L230.22,129.51 L226.67,129.73 L223.11,129.93 L219.56,130.11 L216.00,130.27 L212.45,130.41 L208.90,130.53 L205.34,130.64 L201.79,130.72 L198.24,130.79 L194.68,130.85 L191.13,130.89 L187.57,130.92 L184.02,130.94 L180.47,130.95 L176.91,130.95 L173.36,130.95 L169.80,130.94 L166.25,130.92 L162.70,130.89 L159.14,130.85 L155.59,130.79 L152.04,130.72 L148.48,130.64 L144.93,130.53 L141.37,130.41 L137.82,130.27 L134.27,130.11 L130.71,129.93 L127.16,129.73 L123.61,129.51 L120.05,129.27 L116.50,129.01 L112.94,128.72 L109.39,128.41 L105.84,128.08 L102.28,127.72 L98.73,127.34 L95.18,126.93 Z" fill="url(#gA3)"/>
<line x1="176.39" y1="123.00" x2="176.39" y2="130.00" stroke="#c6c9d4" stroke-width="0.7"/>
<text transform="translate(48.60 128.55) scale(1.000 1)" font-size="5.85" fill="#555" text-anchor="end" stroke="#555" stroke-width="0.06">ICGC-AU</text>
<line x1="49.10" y1="126.5" x2="50.5" y2="126.5" stroke="#8a8a8a" stroke-width="0.6"/>
<text transform="translate(281.20 129.05) scale(1.000 1)" font-size="7.20" fill="#1a1a1a" text-anchor="start">1.85 [1.08, 3.19]</text>
<path d="M100.14,171.4 L133.62,164.75 L166.74,171.4 L133.62,178.05 Z" fill="#1d356c"/>
<text transform="translate(48.60 173.45) scale(1.000 1)" font-size="5.85" fill="#555" text-anchor="end" stroke="#555" stroke-width="0.06">Meta-analysis</text>
<line x1="49.10" y1="171.4" x2="50.5" y2="171.4" stroke="#8a8a8a" stroke-width="0.6"/>
<text transform="translate(281.20 173.95) scale(1.000 1)" font-size="7.20" fill="#1a1a1a" text-anchor="start">1.41 [1.14, 1.74]</text>
<line x1="79.5" y1="26.5" x2="79.5" y2="193.4" stroke="#000" stroke-width="0.52" stroke-dasharray="1.3 1.45"/>
<text transform="translate(79.50 199.90) scale(0.950 1)" font-size="5.90" fill="#4a4a4a" text-anchor="middle">1</text>
<line x1="79.50" y1="193.4" x2="79.50" y2="194.80" stroke="#b0b0b0" stroke-width="0.7"/>
<text transform="translate(118.88 199.90) scale(0.950 1)" font-size="5.90" fill="#4a4a4a" text-anchor="middle">1.284</text>
<line x1="118.88" y1="193.4" x2="118.88" y2="194.80" stroke="#b0b0b0" stroke-width="0.7"/>
<text transform="translate(158.25 199.90) scale(0.950 1)" font-size="5.90" fill="#4a4a4a" text-anchor="middle">1.649</text>
<line x1="158.25" y1="193.4" x2="158.25" y2="194.80" stroke="#b0b0b0" stroke-width="0.7"/>
<text transform="translate(197.62 199.90) scale(0.950 1)" font-size="5.90" fill="#4a4a4a" text-anchor="middle">2.117</text>
<line x1="197.62" y1="193.4" x2="197.62" y2="194.80" stroke="#b0b0b0" stroke-width="0.7"/>
<text transform="translate(237.00 199.90) scale(0.950 1)" font-size="5.90" fill="#4a4a4a" text-anchor="middle">2.718</text>
<line x1="237.00" y1="193.4" x2="237.00" y2="194.80" stroke="#b0b0b0" stroke-width="0.7"/>
<text transform="translate(161.50 206.60) scale(1.000 1)" font-size="7.20" fill="#1a1a1a" text-anchor="middle">HR</text>
<text transform="translate(281.20 39.90) scale(1.000 1)" font-size="7.20" fill="#1a1a1a" text-anchor="start">HR [95% CI]</text>
<line x1="281.2" y1="48.4" x2="335.8" y2="48.4" stroke="#4a4a4a" stroke-width="0.75"/>
<text x="0.7" y="9.9" class="tt">A. <tspan font-style="italic">FGA</tspan></text>
<text x="238.8" y="11.4" class="adj">Adj. <tspan font-style="italic">P</tspan> value=1.68x10<tspan font-size="5.4" dy="-2.5">-2</tspan></text>
<rect x="410.4" y="25.5" width="211.90" height="167.90" fill="#fff" stroke="#dedede" stroke-width="0.9"/>
<line x1="421.35" y1="25.5" x2="421.35" y2="193.4" stroke="#dedede" stroke-width="0.85"/>
<line x1="441.57" y1="25.5" x2="441.57" y2="193.4" stroke="#e7e7e7" stroke-width="0.8"/>
<line x1="482.03" y1="25.5" x2="482.03" y2="193.4" stroke="#e7e7e7" stroke-width="0.8"/>
<line x1="502.25" y1="25.5" x2="502.25" y2="193.4" stroke="#dedede" stroke-width="0.85"/>
<line x1="522.48" y1="25.5" x2="522.48" y2="193.4" stroke="#e7e7e7" stroke-width="0.8"/>
<line x1="542.70" y1="25.5" x2="542.70" y2="193.4" stroke="#dedede" stroke-width="0.85"/>
<line x1="562.92" y1="25.5" x2="562.92" y2="193.4" stroke="#e7e7e7" stroke-width="0.8"/>
<line x1="583.15" y1="25.5" x2="583.15" y2="193.4" stroke="#dedede" stroke-width="0.85"/>
<line x1="603.38" y1="25.5" x2="603.38" y2="193.4" stroke="#e7e7e7" stroke-width="0.8"/>
<line x1="410.4" y1="193.4" x2="622.3" y2="193.4" stroke="#969696" stroke-width="0.9"/>
<path d="M429.69,58.90 L432.23,58.00 L434.76,57.16 L437.30,56.37 L439.83,55.63 L442.37,54.94 L444.91,54.30 L447.44,53.70 L449.98,53.16 L452.51,52.66 L455.05,52.20 L457.59,51.79 L460.12,51.42 L462.66,51.09 L465.19,50.80 L467.73,50.55 L470.27,50.33 L472.80,50.15 L475.34,50.00 L477.87,49.88 L480.41,49.79 L482.95,49.73 L485.48,49.69 L488.02,49.67 L490.55,49.67 L493.09,49.67 L495.63,49.69 L498.16,49.73 L500.70,49.79 L503.23,49.88 L505.77,50.00 L508.31,50.15 L510.84,50.33 L513.38,50.55 L515.91,50.80 L518.45,51.09 L520.99,51.42 L523.52,51.79 L526.06,52.20 L528.59,52.66 L531.13,53.16 L533.67,53.70 L536.20,54.30 L538.74,54.94 L541.27,55.63 L543.81,56.37 L546.35,57.16 L548.88,58.00 L551.42,58.90 L548.88,59.80 L546.35,60.64 L543.81,61.43 L541.27,62.17 L538.74,62.86 L536.20,63.50 L533.67,64.10 L531.13,64.64 L528.59,65.14 L526.06,65.60 L523.52,66.01 L520.99,66.38 L518.45,66.71 L515.91,67.00 L513.38,67.25 L510.84,67.47 L508.31,67.65 L505.77,67.80 L503.23,67.92 L500.70,68.01 L498.16,68.07 L495.63,68.11 L493.09,68.13 L490.55,68.13 L488.02,68.13 L485.48,68.11 L482.95,68.07 L480.41,68.01 L477.87,67.92 L475.34,67.80 L472.80,67.65 L470.27,67.47 L467.73,67.25 L465.19,67.00 L462.66,66.71 L460.12,66.38 L457.59,66.01 L455.05,65.60 L452.51,65.14 L449.98,64.64 L447.44,64.10 L444.91,63.50 L442.37,62.86 L439.83,62.17 L437.30,61.43 L434.76,60.64 L432.23,59.80 Z" fill="url(#gB0)"/>
<line x1="491.30" y1="55.40" x2="491.30" y2="62.40" stroke="#c6c9d4" stroke-width="0.7"/>
<text transform="translate(408.50 60.89) scale(0.985 1)" font-size="5.69" fill="#555" text-anchor="end" stroke="#555" stroke-width="0.06">PanGenEU</text>
<line x1="409.00" y1="58.9" x2="410.4" y2="58.9" stroke="#8a8a8a" stroke-width="0.6"/>
<text transform="translate(630.80 61.38) scale(0.985 1)" font-size="7.00" fill="#1a1a1a" text-anchor="start">1.20 [0.82, 1.74]</text>
<path d="M461.80,81.40 L464.93,80.81 L468.06,80.26 L471.19,79.74 L474.32,79.25 L477.44,78.80 L480.57,78.38 L483.70,77.99 L486.83,77.63 L489.96,77.30 L493.09,77.00 L496.22,76.73 L499.35,76.49 L502.48,76.27 L505.60,76.08 L508.73,75.91 L511.86,75.77 L514.99,75.65 L518.12,75.55 L521.25,75.48 L524.38,75.42 L527.51,75.38 L530.64,75.35 L533.76,75.34 L536.89,75.34 L540.02,75.34 L543.15,75.35 L546.28,75.38 L549.41,75.42 L552.54,75.48 L555.67,75.55 L558.80,75.65 L561.92,75.77 L565.05,75.91 L568.18,76.08 L571.31,76.27 L574.44,76.49 L577.57,76.73 L580.70,77.00 L583.83,77.30 L586.95,77.63 L590.08,77.99 L593.21,78.38 L596.34,78.80 L599.47,79.25 L602.60,79.74 L605.73,80.26 L608.86,80.81 L611.99,81.40 L608.86,81.99 L605.73,82.54 L602.60,83.06 L599.47,83.55 L596.34,84.00 L593.21,84.42 L590.08,84.81 L586.95,85.17 L583.83,85.50 L580.70,85.80 L577.57,86.07 L574.44,86.31 L571.31,86.53 L568.18,86.72 L565.05,86.89 L561.92,87.03 L558.80,87.15 L555.67,87.25 L552.54,87.32 L549.41,87.38 L546.28,87.42 L543.15,87.45 L540.02,87.46 L536.89,87.46 L533.76,87.46 L530.64,87.45 L527.51,87.42 L524.38,87.38 L521.25,87.32 L518.12,87.25 L514.99,87.15 L511.86,87.03 L508.73,86.89 L505.60,86.72 L502.48,86.53 L499.35,86.31 L496.22,86.07 L493.09,85.80 L489.96,85.50 L486.83,85.17 L483.70,84.81 L480.57,84.42 L477.44,84.00 L474.32,83.55 L471.19,83.06 L468.06,82.54 L464.93,81.99 Z" fill="url(#gB1)"/>
<line x1="536.83" y1="77.90" x2="536.83" y2="84.90" stroke="#c6c9d4" stroke-width="0.7"/>
<text transform="translate(408.50 83.39) scale(0.985 1)" font-size="5.69" fill="#555" text-anchor="end" stroke="#555" stroke-width="0.06">TCGA</text>
<line x1="409.00" y1="81.4" x2="410.4" y2="81.4" stroke="#8a8a8a" stroke-width="0.6"/>
<text transform="translate(630.80 83.88) scale(0.985 1)" font-size="7.00" fill="#1a1a1a" text-anchor="start">1.59 [1.00, 2.53]</text>
<path d="M471.23,103.80 L473.67,102.84 L476.12,101.93 L478.57,101.08 L481.01,100.28 L483.46,99.54 L485.90,98.85 L488.35,98.21 L490.80,97.63 L493.24,97.09 L495.69,96.60 L498.13,96.16 L500.58,95.76 L503.03,95.40 L505.47,95.09 L507.92,94.82 L510.36,94.59 L512.81,94.39 L515.26,94.23 L517.70,94.11 L520.15,94.01 L522.59,93.95 L525.04,93.90 L527.49,93.88 L529.93,93.88 L532.38,93.88 L534.82,93.90 L537.27,93.95 L539.72,94.01 L542.16,94.11 L544.61,94.23 L547.05,94.39 L549.50,94.59 L551.95,94.82 L554.39,95.09 L556.84,95.40 L559.28,95.76 L561.73,96.16 L564.18,96.60 L566.62,97.09 L569.07,97.63 L571.51,98.21 L573.96,98.85 L576.41,99.54 L578.85,100.28 L581.30,101.08 L583.74,101.93 L586.19,102.84 L588.64,103.80 L586.19,104.76 L583.74,105.67 L581.30,106.52 L578.85,107.32 L576.41,108.06 L573.96,108.75 L571.51,109.39 L569.07,109.97 L566.62,110.51 L564.18,111.00 L561.73,111.44 L559.28,111.84 L556.84,112.20 L554.39,112.51 L551.95,112.78 L549.50,113.01 L547.05,113.21 L544.61,113.37 L542.16,113.49 L539.72,113.59 L537.27,113.65 L534.82,113.70 L532.38,113.72 L529.93,113.72 L527.49,113.72 L525.04,113.70 L522.59,113.65 L520.15,113.59 L517.70,113.49 L515.26,113.37 L512.81,113.21 L510.36,113.01 L507.92,112.78 L505.47,112.51 L503.03,112.20 L500.58,111.84 L498.13,111.44 L495.69,111.00 L493.24,110.51 L490.80,109.97 L488.35,109.39 L485.90,108.75 L483.46,108.06 L481.01,107.32 L478.57,106.52 L476.12,105.67 L473.67,104.76 Z" fill="url(#gB2)"/>
<line x1="530.61" y1="100.30" x2="530.61" y2="107.30" stroke="#c6c9d4" stroke-width="0.7"/>
<text transform="translate(408.50 105.79) scale(0.985 1)" font-size="5.69" fill="#555" text-anchor="end" stroke="#555" stroke-width="0.06">ICGC-CA</text>
<line x1="409.00" y1="103.8" x2="410.4" y2="103.8" stroke="#8a8a8a" stroke-width="0.6"/>
<text transform="translate(630.80 106.28) scale(0.985 1)" font-size="7.00" fill="#1a1a1a" text-anchor="start">1.53 [1.06, 2.19]</text>
<path d="M419.51,126.20 L423.14,125.76 L426.77,125.35 L430.40,124.96 L434.03,124.60 L437.66,124.27 L441.29,123.95 L444.92,123.66 L448.55,123.40 L452.18,123.15 L455.81,122.93 L459.44,122.73 L463.06,122.55 L466.69,122.39 L470.32,122.24 L473.95,122.12 L477.58,122.02 L481.21,121.93 L484.84,121.86 L488.47,121.80 L492.10,121.75 L495.73,121.72 L499.36,121.71 L502.99,121.70 L506.62,121.69 L510.25,121.70 L513.88,121.71 L517.51,121.72 L521.14,121.75 L524.77,121.80 L528.40,121.86 L532.02,121.93 L535.65,122.02 L539.28,122.12 L542.91,122.24 L546.54,122.39 L550.17,122.55 L553.80,122.73 L557.43,122.93 L561.06,123.15 L564.69,123.40 L568.32,123.66 L571.95,123.95 L575.58,124.27 L579.21,124.60 L582.84,124.96 L586.47,125.35 L590.10,125.76 L593.73,126.20 L590.10,126.64 L586.47,127.05 L582.84,127.44 L579.21,127.80 L575.58,128.13 L571.95,128.45 L568.32,128.74 L564.69,129.00 L561.06,129.25 L557.43,129.47 L553.80,129.67 L550.17,129.85 L546.54,130.01 L542.91,130.16 L539.28,130.28 L535.65,130.38 L532.02,130.47 L528.40,130.54 L524.77,130.60 L521.14,130.65 L517.51,130.68 L513.88,130.69 L510.25,130.70 L506.62,130.71 L502.99,130.70 L499.36,130.69 L495.73,130.68 L492.10,130.65 L488.47,130.60 L484.84,130.54 L481.21,130.47 L477.58,130.38 L473.95,130.28 L470.32,130.16 L466.69,130.01 L463.06,129.85 L459.44,129.67 L455.81,129.47 L452.18,129.25 L448.55,129.00 L444.92,128.74 L441.29,128.45 L437.66,128.13 L434.03,127.80 L430.40,127.44 L426.77,127.05 L423.14,126.64 Z" fill="url(#gB3)"/>
<line x1="506.72" y1="122.70" x2="506.72" y2="129.70" stroke="#c6c9d4" stroke-width="0.7"/>
<text transform="translate(408.50 128.19) scale(0.985 1)" font-size="5.69" fill="#555" text-anchor="end" stroke="#555" stroke-width="0.06">ICGC-AU</text>
<line x1="409.00" y1="126.2" x2="410.4" y2="126.2" stroke="#8a8a8a" stroke-width="0.6"/>
<text transform="translate(630.80 128.68) scale(0.985 1)" font-size="7.00" fill="#1a1a1a" text-anchor="start">1.32 [0.77, 2.26]</text>
<path d="M481.57,171.3 L516.24,164.65 L549.55,171.3 L516.24,177.95 Z" fill="#1d356c"/>
<text transform="translate(408.50 173.29) scale(0.985 1)" font-size="5.69" fill="#555" text-anchor="end" stroke="#555" stroke-width="0.06">Meta-analysis</text>
<line x1="409.00" y1="171.3" x2="410.4" y2="171.3" stroke="#8a8a8a" stroke-width="0.6"/>
<text transform="translate(630.80 173.78) scale(0.985 1)" font-size="7.00" fill="#1a1a1a" text-anchor="start">1.40 [1.13, 1.72]</text>
<line x1="461.5" y1="25.5" x2="461.5" y2="193.4" stroke="#000" stroke-width="0.52" stroke-dasharray="1.3 1.45"/>
<text transform="translate(421.35 199.90) scale(0.936 1)" font-size="5.74" fill="#4a4a4a" text-anchor="middle">0.779</text>
<line x1="421.35" y1="193.4" x2="421.35" y2="194.80" stroke="#b0b0b0" stroke-width="0.7"/>
<text transform="translate(461.80 199.90) scale(0.936 1)" font-size="5.74" fill="#4a4a4a" text-anchor="middle">1</text>
<line x1="461.80" y1="193.4" x2="461.80" y2="194.80" stroke="#b0b0b0" stroke-width="0.7"/>
<text transform="translate(502.25 199.90) scale(0.936 1)" font-size="5.74" fill="#4a4a4a" text-anchor="middle">1.284</text>
<line x1="502.25" y1="193.4" x2="502.25" y2="194.80" stroke="#b0b0b0" stroke-width="0.7"/>
<text transform="translate(542.70 199.90) scale(0.936 1)" font-size="5.74" fill="#4a4a4a" text-anchor="middle">1.649</text>
<line x1="542.70" y1="193.4" x2="542.70" y2="194.80" stroke="#b0b0b0" stroke-width="0.7"/>
<text transform="translate(583.15 199.90) scale(0.936 1)" font-size="5.74" fill="#4a4a4a" text-anchor="middle">2.117</text>
<line x1="583.15" y1="193.4" x2="583.15" y2="194.80" stroke="#b0b0b0" stroke-width="0.7"/>
<text transform="translate(515.70 206.70) scale(0.985 1)" font-size="7.00" fill="#1a1a1a" text-anchor="middle">HR</text>
<text transform="translate(630.80 39.10) scale(0.985 1)" font-size="7.00" fill="#1a1a1a" text-anchor="start">HR [95% CI]</text>
<line x1="630.8" y1="47.3" x2="683.0" y2="47.3" stroke="#4a4a4a" stroke-width="0.75"/>
<text x="353.3" y="9.9" class="tt">B. <tspan font-style="italic">SERPINE1</tspan></text>
<text x="596.7" y="7.5" class="adj">Adj. <tspan font-style="italic">P</tspan> value=1.68x10<tspan font-size="5.4" dy="-2.5">-2</tspan></text>
<rect x="55.8" y="278.6" width="196.00" height="160.10" fill="#fff" stroke="#dedede" stroke-width="0.9"/>
<line x1="66.62" y1="278.6" x2="66.62" y2="438.7" stroke="#e7e7e7" stroke-width="0.8"/>
<line x1="122.18" y1="278.6" x2="122.18" y2="438.7" stroke="#e7e7e7" stroke-width="0.8"/>
<line x1="149.96" y1="278.6" x2="149.96" y2="438.7" stroke="#dedede" stroke-width="0.85"/>
<line x1="177.74" y1="278.6" x2="177.74" y2="438.7" stroke="#e7e7e7" stroke-width="0.8"/>
<line x1="205.52" y1="278.6" x2="205.52" y2="438.7" stroke="#dedede" stroke-width="0.85"/>
<line x1="233.30" y1="278.6" x2="233.30" y2="438.7" stroke="#e7e7e7" stroke-width="0.8"/>
<line x1="55.8" y1="438.7" x2="251.8" y2="438.7" stroke="#ababab" stroke-width="0.9"/>
<path d="M68.52,310.50 L70.84,309.71 L73.16,308.97 L75.48,308.27 L77.80,307.62 L80.12,307.01 L82.44,306.44 L84.75,305.92 L87.07,305.44 L89.39,305.00 L91.71,304.60 L94.03,304.23 L96.35,303.91 L98.67,303.62 L100.99,303.36 L103.31,303.14 L105.63,302.95 L107.95,302.79 L110.27,302.66 L112.59,302.56 L114.91,302.48 L117.23,302.42 L119.55,302.39 L121.86,302.37 L124.18,302.37 L126.50,302.37 L128.82,302.39 L131.14,302.42 L133.46,302.48 L135.78,302.56 L138.10,302.66 L140.42,302.79 L142.74,302.95 L145.06,303.14 L147.38,303.36 L149.70,303.62 L152.02,303.91 L154.34,304.23 L156.66,304.60 L158.97,305.00 L161.29,305.44 L163.61,305.92 L165.93,306.44 L168.25,307.01 L170.57,307.62 L172.89,308.27 L175.21,308.97 L177.53,309.71 L179.85,310.50 L177.53,311.29 L175.21,312.03 L172.89,312.73 L170.57,313.38 L168.25,313.99 L165.93,314.56 L163.61,315.08 L161.29,315.56 L158.97,316.00 L156.66,316.40 L154.34,316.77 L152.02,317.09 L149.70,317.38 L147.38,317.64 L145.06,317.86 L142.74,318.05 L140.42,318.21 L138.10,318.34 L135.78,318.44 L133.46,318.52 L131.14,318.58 L128.82,318.61 L126.50,318.63 L124.18,318.63 L121.86,318.63 L119.55,318.61 L117.23,318.58 L114.91,318.52 L112.59,318.44 L110.27,318.34 L107.95,318.21 L105.63,318.05 L103.31,317.86 L100.99,317.64 L98.67,317.38 L96.35,317.09 L94.03,316.77 L91.71,316.40 L89.39,316.00 L87.07,315.56 L84.75,315.08 L82.44,314.56 L80.12,313.99 L77.80,313.38 L75.48,312.73 L73.16,312.03 L70.84,311.29 Z" fill="url(#gC0)"/>
<line x1="124.28" y1="307.00" x2="124.28" y2="314.00" stroke="#c6c9d4" stroke-width="0.7"/>
<text transform="translate(53.90 312.44) scale(0.937 1)" font-size="5.52" fill="#555" text-anchor="end" stroke="#555" stroke-width="0.06">PanGenEU</text>
<line x1="54.40" y1="310.5" x2="55.8" y2="310.5" stroke="#8a8a8a" stroke-width="0.6"/>
<text transform="translate(259.90 312.91) scale(0.937 1)" font-size="6.80" fill="#1a1a1a" text-anchor="start">1.24 [0.83, 1.85]</text>
<path d="M65.13,331.90 L67.83,331.32 L70.53,330.77 L73.23,330.26 L75.94,329.77 L78.64,329.33 L81.34,328.91 L84.04,328.52 L86.74,328.17 L89.44,327.84 L92.14,327.55 L94.84,327.28 L97.54,327.04 L100.25,326.83 L102.95,326.64 L105.65,326.47 L108.35,326.33 L111.05,326.22 L113.75,326.12 L116.45,326.04 L119.15,325.98 L121.85,325.94 L124.56,325.92 L127.26,325.91 L129.96,325.90 L132.66,325.91 L135.36,325.92 L138.06,325.94 L140.76,325.98 L143.46,326.04 L146.16,326.12 L148.87,326.22 L151.57,326.33 L154.27,326.47 L156.97,326.64 L159.67,326.83 L162.37,327.04 L165.07,327.28 L167.77,327.55 L170.47,327.84 L173.18,328.17 L175.88,328.52 L178.58,328.91 L181.28,329.33 L183.98,329.77 L186.68,330.26 L189.38,330.77 L192.08,331.32 L194.78,331.90 L192.08,332.48 L189.38,333.03 L186.68,333.54 L183.98,334.03 L181.28,334.47 L178.58,334.89 L175.88,335.28 L173.18,335.63 L170.47,335.96 L167.77,336.25 L165.07,336.52 L162.37,336.76 L159.67,336.97 L156.97,337.16 L154.27,337.33 L151.57,337.47 L148.87,337.58 L146.16,337.68 L143.46,337.76 L140.76,337.82 L138.06,337.86 L135.36,337.88 L132.66,337.89 L129.96,337.90 L127.26,337.89 L124.56,337.88 L121.85,337.86 L119.15,337.82 L116.45,337.76 L113.75,337.68 L111.05,337.58 L108.35,337.47 L105.65,337.33 L102.95,337.16 L100.25,336.97 L97.54,336.76 L94.84,336.52 L92.14,336.25 L89.44,335.96 L86.74,335.63 L84.04,335.28 L81.34,334.89 L78.64,334.47 L75.94,334.03 L73.23,333.54 L70.53,333.03 L67.83,332.48 Z" fill="url(#gC1)"/>
<line x1="129.77" y1="328.40" x2="129.77" y2="335.40" stroke="#c6c9d4" stroke-width="0.7"/>
<text transform="translate(53.90 333.84) scale(0.937 1)" font-size="5.52" fill="#555" text-anchor="end" stroke="#555" stroke-width="0.06">TCGA</text>
<line x1="54.40" y1="331.9" x2="55.8" y2="331.9" stroke="#8a8a8a" stroke-width="0.6"/>
<text transform="translate(259.90 334.31) scale(0.937 1)" font-size="6.80" fill="#1a1a1a" text-anchor="start">1.29 [0.81, 2.06]</text>
<path d="M68.52,353.40 L70.68,352.49 L72.84,351.63 L74.99,350.83 L77.15,350.07 L79.31,349.37 L81.47,348.72 L83.63,348.11 L85.79,347.56 L87.95,347.05 L90.10,346.59 L92.26,346.17 L94.42,345.79 L96.58,345.45 L98.74,345.16 L100.90,344.90 L103.06,344.68 L105.21,344.50 L107.37,344.35 L109.53,344.23 L111.69,344.14 L113.85,344.07 L116.01,344.03 L118.17,344.02 L120.32,344.01 L122.48,344.02 L124.64,344.03 L126.80,344.07 L128.96,344.14 L131.12,344.23 L133.28,344.35 L135.43,344.50 L137.59,344.68 L139.75,344.90 L141.91,345.16 L144.07,345.45 L146.23,345.79 L148.39,346.17 L150.54,346.59 L152.70,347.05 L154.86,347.56 L157.02,348.11 L159.18,348.72 L161.34,349.37 L163.50,350.07 L165.65,350.83 L167.81,351.63 L169.97,352.49 L172.13,353.40 L169.97,354.31 L167.81,355.17 L165.65,355.97 L163.50,356.73 L161.34,357.43 L159.18,358.08 L157.02,358.69 L154.86,359.24 L152.70,359.75 L150.54,360.21 L148.39,360.63 L146.23,361.01 L144.07,361.35 L141.91,361.64 L139.75,361.90 L137.59,362.12 L135.43,362.30 L133.28,362.45 L131.12,362.57 L128.96,362.66 L126.80,362.73 L124.64,362.77 L122.48,362.78 L120.32,362.79 L118.17,362.78 L116.01,362.77 L113.85,362.73 L111.69,362.66 L109.53,362.57 L107.37,362.45 L105.21,362.30 L103.06,362.12 L100.90,361.90 L98.74,361.64 L96.58,361.35 L94.42,361.01 L92.26,360.63 L90.10,360.21 L87.95,359.75 L85.79,359.24 L83.63,358.69 L81.47,358.08 L79.31,357.43 L77.15,356.73 L74.99,355.97 L72.84,355.17 L70.68,354.31 Z" fill="url(#gC2)"/>
<line x1="120.88" y1="349.90" x2="120.88" y2="356.90" stroke="#c6c9d4" stroke-width="0.7"/>
<text transform="translate(53.90 355.34) scale(0.937 1)" font-size="5.52" fill="#555" text-anchor="end" stroke="#555" stroke-width="0.06">ICGC-CA</text>
<line x1="54.40" y1="353.4" x2="55.8" y2="353.4" stroke="#8a8a8a" stroke-width="0.6"/>
<text transform="translate(259.90 355.81) scale(0.937 1)" font-size="6.80" fill="#1a1a1a" text-anchor="start">1.21 [0.83, 1.75]</text>
<path d="M94.40,374.80 L97.49,374.36 L100.58,373.94 L103.67,373.54 L106.76,373.18 L109.85,372.83 L112.95,372.52 L116.04,372.22 L119.13,371.95 L122.22,371.70 L125.31,371.48 L128.40,371.27 L131.49,371.09 L134.58,370.92 L137.67,370.78 L140.76,370.66 L143.86,370.55 L146.95,370.46 L150.04,370.39 L153.13,370.33 L156.22,370.28 L159.31,370.25 L162.40,370.23 L165.49,370.22 L168.58,370.22 L171.67,370.22 L174.77,370.23 L177.86,370.25 L180.95,370.28 L184.04,370.33 L187.13,370.39 L190.22,370.46 L193.31,370.55 L196.40,370.66 L199.49,370.78 L202.58,370.92 L205.67,371.09 L208.77,371.27 L211.86,371.48 L214.95,371.70 L218.04,371.95 L221.13,372.22 L224.22,372.52 L227.31,372.83 L230.40,373.18 L233.49,373.54 L236.58,373.94 L239.68,374.36 L242.77,374.80 L239.68,375.24 L236.58,375.66 L233.49,376.06 L230.40,376.42 L227.31,376.77 L224.22,377.08 L221.13,377.38 L218.04,377.65 L214.95,377.90 L211.86,378.12 L208.77,378.33 L205.67,378.51 L202.58,378.68 L199.49,378.82 L196.40,378.94 L193.31,379.05 L190.22,379.14 L187.13,379.21 L184.04,379.27 L180.95,379.32 L177.86,379.35 L174.77,379.37 L171.67,379.38 L168.58,379.38 L165.49,379.38 L162.40,379.37 L159.31,379.35 L156.22,379.32 L153.13,379.27 L150.04,379.21 L146.95,379.14 L143.86,379.05 L140.76,378.94 L137.67,378.82 L134.58,378.68 L131.49,378.51 L128.40,378.33 L125.31,378.12 L122.22,377.90 L119.13,377.65 L116.04,377.38 L112.95,377.08 L109.85,376.77 L106.76,376.42 L103.67,376.06 L100.58,375.66 L97.49,375.24 Z" fill="url(#gC3)"/>
<line x1="168.10" y1="371.30" x2="168.10" y2="378.30" stroke="#c6c9d4" stroke-width="0.7"/>
<text transform="translate(53.90 376.74) scale(0.937 1)" font-size="5.52" fill="#555" text-anchor="end" stroke="#555" stroke-width="0.06">ICGC-AU</text>
<line x1="54.40" y1="374.8" x2="55.8" y2="374.8" stroke="#8a8a8a" stroke-width="0.6"/>
<text transform="translate(259.90 377.21) scale(0.937 1)" font-size="6.80" fill="#1a1a1a" text-anchor="start">1.70 [1.00, 2.91]</text>
<path d="M101.18,417.8 L130.84,411.15 L161.41,417.8 L130.84,424.45 Z" fill="#1d356c"/>
<text transform="translate(53.90 419.74) scale(0.937 1)" font-size="5.52" fill="#555" text-anchor="end" stroke="#555" stroke-width="0.06">Meta-analysis</text>
<line x1="54.40" y1="417.8" x2="55.8" y2="417.8" stroke="#8a8a8a" stroke-width="0.6"/>
<text transform="translate(259.90 420.21) scale(0.937 1)" font-size="6.80" fill="#1a1a1a" text-anchor="start">1.30 [1.05, 1.62]</text>
<line x1="94.5" y1="278.6" x2="94.5" y2="438.7" stroke="#000" stroke-width="0.52" stroke-dasharray="1.3 1.45"/>
<text transform="translate(94.40 444.20) scale(0.890 1)" font-size="5.57" fill="#4a4a4a" text-anchor="middle">1</text>
<line x1="94.40" y1="438.7" x2="94.40" y2="440.10" stroke="#b0b0b0" stroke-width="0.7"/>
<text transform="translate(149.96 444.20) scale(0.890 1)" font-size="5.57" fill="#4a4a4a" text-anchor="middle">1.492</text>
<line x1="149.96" y1="438.7" x2="149.96" y2="440.10" stroke="#b0b0b0" stroke-width="0.7"/>
<text transform="translate(205.52 444.20) scale(0.890 1)" font-size="5.57" fill="#4a4a4a" text-anchor="middle">2.226</text>
<line x1="205.52" y1="438.7" x2="205.52" y2="440.10" stroke="#b0b0b0" stroke-width="0.7"/>
<text transform="translate(154.00 451.70) scale(0.937 1)" font-size="6.80" fill="#1a1a1a" text-anchor="middle">HR</text>
<text transform="translate(259.90 291.80) scale(0.937 1)" font-size="6.80" fill="#1a1a1a" text-anchor="start">HR [95% CI]</text>
<line x1="259.9" y1="299.8" x2="308.4" y2="299.8" stroke="#4a4a4a" stroke-width="0.75"/>
<text x="12.7" y="265.25" class="tt">C. <tspan font-style="italic">FGG</tspan></text>
<text x="224.8" y="265.3" class="adj">Adj. <tspan font-style="italic">P</tspan> value=4.34x10<tspan font-size="5.4" dy="-2.5">-2</tspan></text>
<rect x="415.4" y="278.5" width="206.30" height="160.10" fill="#fff" stroke="#dedede" stroke-width="0.9"/>
<line x1="422.75" y1="278.5" x2="422.75" y2="438.6" stroke="#dedede" stroke-width="0.85"/>
<line x1="450.07" y1="278.5" x2="450.07" y2="438.6" stroke="#e7e7e7" stroke-width="0.8"/>
<line x1="504.72" y1="278.5" x2="504.72" y2="438.6" stroke="#e7e7e7" stroke-width="0.8"/>
<line x1="532.05" y1="278.5" x2="532.05" y2="438.6" stroke="#dedede" stroke-width="0.85"/>
<line x1="559.38" y1="278.5" x2="559.38" y2="438.6" stroke="#e7e7e7" stroke-width="0.8"/>
<line x1="586.70" y1="278.5" x2="586.70" y2="438.6" stroke="#dedede" stroke-width="0.85"/>
<line x1="614.02" y1="278.5" x2="614.02" y2="438.6" stroke="#e7e7e7" stroke-width="0.8"/>
<line x1="415.4" y1="438.6" x2="621.7" y2="438.6" stroke="#b0b0b0" stroke-width="0.9"/>
<path d="M454.37,310.50 L456.04,309.56 L457.72,308.68 L459.39,307.85 L461.07,307.08 L462.74,306.35 L464.42,305.68 L466.09,305.06 L467.77,304.49 L469.44,303.97 L471.11,303.49 L472.79,303.06 L474.46,302.67 L476.14,302.33 L477.81,302.02 L479.49,301.76 L481.16,301.53 L482.84,301.34 L484.51,301.19 L486.19,301.06 L487.86,300.97 L489.54,300.91 L491.21,300.87 L492.89,300.85 L494.56,300.84 L496.24,300.85 L497.91,300.87 L499.58,300.91 L501.26,300.97 L502.93,301.06 L504.61,301.19 L506.28,301.34 L507.96,301.53 L509.63,301.76 L511.31,302.02 L512.98,302.33 L514.66,302.67 L516.33,303.06 L518.01,303.49 L519.68,303.97 L521.36,304.49 L523.03,305.06 L524.70,305.68 L526.38,306.35 L528.05,307.08 L529.73,307.85 L531.40,308.68 L533.08,309.56 L534.75,310.50 L533.08,311.44 L531.40,312.32 L529.73,313.15 L528.05,313.92 L526.38,314.65 L524.70,315.32 L523.03,315.94 L521.36,316.51 L519.68,317.03 L518.01,317.51 L516.33,317.94 L514.66,318.33 L512.98,318.67 L511.31,318.98 L509.63,319.24 L507.96,319.47 L506.28,319.66 L504.61,319.81 L502.93,319.94 L501.26,320.03 L499.58,320.09 L497.91,320.13 L496.24,320.15 L494.56,320.16 L492.89,320.15 L491.21,320.13 L489.54,320.09 L487.86,320.03 L486.19,319.94 L484.51,319.81 L482.84,319.66 L481.16,319.47 L479.49,319.24 L477.81,318.98 L476.14,318.67 L474.46,318.33 L472.79,317.94 L471.11,317.51 L469.44,317.03 L467.77,316.51 L466.09,315.94 L464.42,315.32 L462.74,314.65 L461.07,313.92 L459.39,313.15 L457.72,312.32 L456.04,311.44 Z" fill="url(#gD0)"/>
<line x1="494.56" y1="307.00" x2="494.56" y2="314.00" stroke="#c6c9d4" stroke-width="0.7"/>
<text transform="translate(413.50 312.46) scale(0.975 1)" font-size="5.61" fill="#555" text-anchor="end" stroke="#555" stroke-width="0.06">PanGenEU</text>
<line x1="414.00" y1="310.5" x2="415.4" y2="310.5" stroke="#8a8a8a" stroke-width="0.6"/>
<text transform="translate(630.00 312.94) scale(0.975 1)" font-size="6.90" fill="#1a1a1a" text-anchor="start">1.17 [0.81, 1.69]</text>
<path d="M507.75,331.90 L509.92,331.34 L512.09,330.82 L514.27,330.33 L516.44,329.87 L518.62,329.44 L520.79,329.04 L522.97,328.67 L525.14,328.34 L527.32,328.03 L529.49,327.74 L531.66,327.49 L533.84,327.26 L536.01,327.05 L538.19,326.87 L540.36,326.71 L542.54,326.58 L544.71,326.47 L546.89,326.38 L549.06,326.30 L551.23,326.25 L553.41,326.21 L555.58,326.19 L557.76,326.17 L559.93,326.17 L562.11,326.17 L564.28,326.19 L566.46,326.21 L568.63,326.25 L570.80,326.30 L572.98,326.38 L575.15,326.47 L577.33,326.58 L579.50,326.71 L581.68,326.87 L583.85,327.05 L586.03,327.26 L588.20,327.49 L590.37,327.74 L592.55,328.03 L594.72,328.34 L596.90,328.67 L599.07,329.04 L601.25,329.44 L603.42,329.87 L605.60,330.33 L607.77,330.82 L609.94,331.34 L612.12,331.90 L609.94,332.46 L607.77,332.98 L605.60,333.47 L603.42,333.93 L601.25,334.36 L599.07,334.76 L596.90,335.13 L594.72,335.46 L592.55,335.77 L590.37,336.06 L588.20,336.31 L586.03,336.54 L583.85,336.75 L581.68,336.93 L579.50,337.09 L577.33,337.22 L575.15,337.33 L572.98,337.42 L570.80,337.50 L568.63,337.55 L566.46,337.59 L564.28,337.61 L562.11,337.63 L559.93,337.63 L557.76,337.63 L555.58,337.61 L553.41,337.59 L551.23,337.55 L549.06,337.50 L546.89,337.42 L544.71,337.33 L542.54,337.22 L540.36,337.09 L538.19,336.93 L536.01,336.75 L533.84,336.54 L531.66,336.31 L529.49,336.06 L527.32,335.77 L525.14,335.46 L522.97,335.13 L520.79,334.76 L518.62,334.36 L516.44,333.93 L514.27,333.47 L512.09,332.98 L509.92,332.46 Z" fill="url(#gD1)"/>
<line x1="560.04" y1="328.40" x2="560.04" y2="335.40" stroke="#c6c9d4" stroke-width="0.7"/>
<text transform="translate(413.50 333.86) scale(0.975 1)" font-size="5.61" fill="#555" text-anchor="end" stroke="#555" stroke-width="0.06">TCGA</text>
<line x1="414.00" y1="331.9" x2="415.4" y2="331.9" stroke="#8a8a8a" stroke-width="0.6"/>
<text transform="translate(630.00 334.34) scale(0.975 1)" font-size="6.90" fill="#1a1a1a" text-anchor="start">2.13 [1.32, 3.43]</text>
<path d="M468.29,353.40 L469.95,352.45 L471.61,351.55 L473.28,350.72 L474.94,349.93 L476.60,349.20 L478.27,348.52 L479.93,347.89 L481.59,347.31 L483.26,346.78 L484.92,346.29 L486.58,345.86 L488.25,345.46 L489.91,345.11 L491.57,344.81 L493.24,344.54 L494.90,344.31 L496.56,344.12 L498.23,343.96 L499.89,343.84 L501.55,343.74 L503.22,343.68 L504.88,343.63 L506.54,343.61 L508.21,343.61 L509.87,343.61 L511.53,343.63 L513.20,343.68 L514.86,343.74 L516.52,343.84 L518.19,343.96 L519.85,344.12 L521.51,344.31 L523.18,344.54 L524.84,344.81 L526.50,345.11 L528.17,345.46 L529.83,345.86 L531.49,346.29 L533.16,346.78 L534.82,347.31 L536.48,347.89 L538.15,348.52 L539.81,349.20 L541.47,349.93 L543.14,350.72 L544.80,351.55 L546.47,352.45 L548.13,353.40 L546.47,354.35 L544.80,355.25 L543.14,356.08 L541.47,356.87 L539.81,357.60 L538.15,358.28 L536.48,358.91 L534.82,359.49 L533.16,360.02 L531.49,360.51 L529.83,360.94 L528.17,361.34 L526.50,361.69 L524.84,361.99 L523.18,362.26 L521.51,362.49 L519.85,362.68 L518.19,362.84 L516.52,362.96 L514.86,363.06 L513.20,363.12 L511.53,363.17 L509.87,363.19 L508.21,363.19 L506.54,363.19 L504.88,363.17 L503.22,363.12 L501.55,363.06 L499.89,362.96 L498.23,362.84 L496.56,362.68 L494.90,362.49 L493.24,362.26 L491.57,361.99 L489.91,361.69 L488.25,361.34 L486.58,360.94 L484.92,360.51 L483.26,360.02 L481.59,359.49 L479.93,358.91 L478.27,358.28 L476.60,357.60 L474.94,356.87 L473.28,356.08 L471.61,355.25 L469.95,354.35 Z" fill="url(#gD2)"/>
<line x1="507.75" y1="349.90" x2="507.75" y2="356.90" stroke="#c6c9d4" stroke-width="0.7"/>
<text transform="translate(413.50 355.36) scale(0.975 1)" font-size="5.61" fill="#555" text-anchor="end" stroke="#555" stroke-width="0.06">ICGC-CA</text>
<line x1="414.00" y1="353.4" x2="415.4" y2="353.4" stroke="#8a8a8a" stroke-width="0.6"/>
<text transform="translate(630.00 355.84) scale(0.975 1)" font-size="6.90" fill="#1a1a1a" text-anchor="start">1.32 [0.92, 1.91]</text>
<path d="M425.15,374.80 L427.82,374.43 L430.48,374.08 L433.15,373.76 L435.82,373.45 L438.49,373.17 L441.15,372.90 L443.82,372.66 L446.49,372.43 L449.15,372.22 L451.82,372.04 L454.49,371.87 L457.15,371.71 L459.82,371.58 L462.49,371.46 L465.15,371.35 L467.82,371.26 L470.49,371.19 L473.15,371.13 L475.82,371.08 L478.49,371.04 L481.16,371.02 L483.82,371.00 L486.49,370.99 L489.16,370.99 L491.82,370.99 L494.49,371.00 L497.16,371.02 L499.82,371.04 L502.49,371.08 L505.16,371.13 L507.82,371.19 L510.49,371.26 L513.16,371.35 L515.82,371.46 L518.49,371.58 L521.16,371.71 L523.83,371.87 L526.49,372.04 L529.16,372.22 L531.83,372.43 L534.49,372.66 L537.16,372.90 L539.83,373.17 L542.49,373.45 L545.16,373.76 L547.83,374.08 L550.49,374.43 L553.16,374.80 L550.49,375.17 L547.83,375.52 L545.16,375.84 L542.49,376.15 L539.83,376.43 L537.16,376.70 L534.49,376.94 L531.83,377.17 L529.16,377.38 L526.49,377.56 L523.83,377.73 L521.16,377.89 L518.49,378.02 L515.82,378.14 L513.16,378.25 L510.49,378.34 L507.82,378.41 L505.16,378.47 L502.49,378.52 L499.82,378.56 L497.16,378.58 L494.49,378.60 L491.82,378.61 L489.16,378.61 L486.49,378.61 L483.82,378.60 L481.16,378.58 L478.49,378.56 L475.82,378.52 L473.15,378.47 L470.49,378.41 L467.82,378.34 L465.15,378.25 L462.49,378.14 L459.82,378.02 L457.15,377.89 L454.49,377.73 L451.82,377.56 L449.15,377.38 L446.49,377.17 L443.82,376.94 L441.15,376.70 L438.49,376.43 L435.82,376.15 L433.15,375.84 L430.48,375.52 L427.82,375.17 Z" fill="url(#gD3)"/>
<line x1="488.81" y1="371.30" x2="488.81" y2="378.30" stroke="#c6c9d4" stroke-width="0.7"/>
<text transform="translate(413.50 376.76) scale(0.975 1)" font-size="5.61" fill="#555" text-anchor="end" stroke="#555" stroke-width="0.06">ICGC-AU</text>
<line x1="414.00" y1="374.8" x2="415.4" y2="374.8" stroke="#8a8a8a" stroke-width="0.6"/>
<text transform="translate(630.00 377.24) scale(0.975 1)" font-size="6.90" fill="#1a1a1a" text-anchor="start">1.11 [0.62, 2.00]</text>
<path d="M487.82,417.8 L511.01,411.15 L534.75,417.8 L511.01,424.45 Z" fill="#1d356c"/>
<text transform="translate(413.50 419.76) scale(0.975 1)" font-size="5.61" fill="#555" text-anchor="end" stroke="#555" stroke-width="0.06">Meta-analysis</text>
<line x1="414.00" y1="417.8" x2="415.4" y2="417.8" stroke="#8a8a8a" stroke-width="0.6"/>
<text transform="translate(630.00 420.24) scale(0.975 1)" font-size="6.90" fill="#1a1a1a" text-anchor="start">1.36 [1.10, 1.69]</text>
<line x1="477.5" y1="278.5" x2="477.5" y2="438.6" stroke="#000" stroke-width="0.52" stroke-dasharray="1.3 1.45"/>
<text transform="translate(422.75 444.15) scale(0.926 1)" font-size="5.65" fill="#4a4a4a" text-anchor="middle">0.607</text>
<line x1="422.75" y1="438.6" x2="422.75" y2="440.00" stroke="#b0b0b0" stroke-width="0.7"/>
<text transform="translate(477.40 444.15) scale(0.926 1)" font-size="5.65" fill="#4a4a4a" text-anchor="middle">1</text>
<line x1="477.40" y1="438.6" x2="477.40" y2="440.00" stroke="#b0b0b0" stroke-width="0.7"/>
<text transform="translate(532.05 444.15) scale(0.926 1)" font-size="5.65" fill="#4a4a4a" text-anchor="middle">1.649</text>
<line x1="532.05" y1="438.6" x2="532.05" y2="440.00" stroke="#b0b0b0" stroke-width="0.7"/>
<text transform="translate(586.70 444.15) scale(0.926 1)" font-size="5.65" fill="#4a4a4a" text-anchor="middle">2.718</text>
<line x1="586.70" y1="438.6" x2="586.70" y2="440.00" stroke="#b0b0b0" stroke-width="0.7"/>
<text transform="translate(518.70 451.65) scale(0.975 1)" font-size="6.90" fill="#1a1a1a" text-anchor="middle">HR</text>
<text transform="translate(630.00 291.60) scale(0.975 1)" font-size="6.90" fill="#1a1a1a" text-anchor="start">HR [95% CI]</text>
<line x1="630.0" y1="299.3" x2="681.0" y2="299.3" stroke="#4a4a4a" stroke-width="0.75"/>
<text x="353.6" y="265.2" class="tt">D. <tspan font-style="italic">F3</tspan></text>
<text x="573.2" y="267.1" class="adj">Adj. <tspan font-style="italic">P</tspan> value=4.34x10<tspan font-size="5.4" dy="-2.5">-2</tspan></text>
</g>
</svg>
</body></html>
